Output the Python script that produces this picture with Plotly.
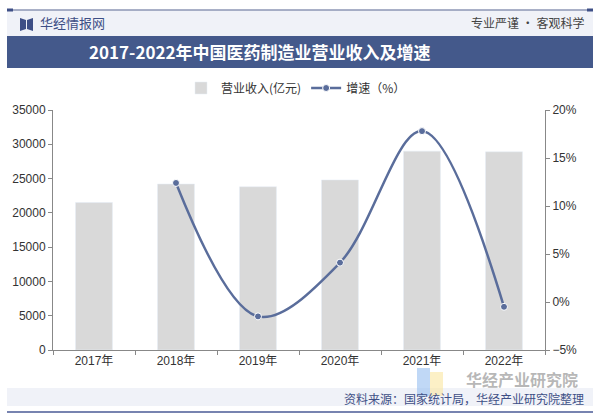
import plotly.graph_objects as go

years = ["2017年", "2018年", "2019年", "2020年", "2021年", "2022年"]
revenue = [21500, 24200, 23800, 24800, 29000, 28900]
growth_years = ["2018年", "2019年", "2020年", "2021年", "2022年"]
growth = [12.4, -1.5, 4.1, 17.8, -0.5]

W, H = 600, 420
PL, PR, PT, PB = 53, 545, 110, 350


def px(x):
    return (x - PL) / (PR - PL)


def py(y):
    return (PB - y) / (PB - PT)


fig = go.Figure()
fig.add_trace(go.Bar(x=years, y=revenue, name="营业收入(亿元)",
                     marker=dict(color="#d9d9d9"), yaxis="y"))
fig.add_trace(go.Scatter(x=growth_years, y=growth, name="增速（%）", yaxis="y2",
                         mode="lines+markers",
                         line=dict(color="#5a6d9b", width=2.5, shape="spline", smoothing=1.0),
                         marker=dict(size=7, color="#5a6d9b", line=dict(color="white", width=1))))

shapes = []
shapes.append(dict(type="rect", xref="paper", yref="paper", x0=px(7), x1=px(593), y0=py(10), y1=py(36),
                   fillcolor="#f0f2f8", line=dict(width=0), layer="below"))
shapes.append(dict(type="line", xref="paper", yref="paper", x0=px(7), x1=px(593), y0=py(10), y1=py(10),
                   line=dict(color="#8c96b4", width=1.5)))
shapes.append(dict(type="line", xref="paper", yref="paper", x0=px(7), x1=px(13), y0=py(10), y1=py(10),
                   line=dict(color="#3e4f86", width=3)))
shapes.append(dict(type="line", xref="paper", yref="paper", x0=px(587), x1=px(593), y0=py(10), y1=py(10),
                   line=dict(color="#3e4f86", width=3)))
shapes.append(dict(type="rect", xref="paper", yref="paper", x0=px(7), x1=px(593), y0=py(36), y1=py(68),
                   fillcolor="#44598b", line=dict(width=0)))
shapes.append(dict(type="path", xref="paper", yref="paper",
                   path="M {a},{b} L {c},{d} L {c},{e} L {a},{f} Z".format(
                       a=px(20), b=py(18), c=px(26), d=py(20), e=py(29), f=py(31)),
                   fillcolor="#3e4f86", line=dict(width=0)))
shapes.append(dict(type="path", xref="paper", yref="paper",
                   path="M {a},{b} L {c},{d} L {c},{e} L {a},{f} Z".format(
                       a=px(33), b=py(18), c=px(27), d=py(20), e=py(29), f=py(31)),
                   fillcolor="#3e4f86", line=dict(width=0)))
shapes.append(dict(type="rect", xref="paper", yref="paper", x0=px(7), x1=px(593), y0=py(388), y1=py(406),
                   fillcolor="#f0f2f8", line=dict(width=0), layer="below"))
shapes.append(dict(type="line", xref="paper", yref="paper", x0=px(7), x1=px(593), y0=py(412), y1=py(412),
                   line=dict(color="#4a5a96", width=1.5)))
shapes.append(dict(type="rect", xref="paper", yref="paper", x0=px(417), x1=px(430), y0=py(368), y1=py(396),
                   fillcolor="rgba(150,190,240,0.6)", line=dict(width=0)))
shapes.append(dict(type="rect", xref="paper", yref="paper", x0=px(430), x1=px(443), y0=py(372), y1=py(396),
                   fillcolor="rgba(250,230,160,0.6)", line=dict(width=0)))

annotations = [
    dict(text="华经情报网", x=px(38), y=py(23), xref="paper", yref="paper", xanchor="left", yanchor="middle",
         showarrow=False, font=dict(size=13, color="#3e4f86", family="Noto Sans CJK SC")),
    dict(text="专业严谨 • 客观科学", x=px(586), y=py(23), xref="paper", yref="paper", xanchor="right",
         yanchor="middle", showarrow=False, font=dict(size=12, color="#444", family="Noto Sans CJK SC")),
    dict(text="<b>2017-2022年中国医药制造业营业收入及增速</b>", x=px(260), y=py(52), xref="paper", yref="paper",
         xanchor="center", yanchor="middle", showarrow=False,
         font=dict(size=17, color="white", family="Noto Sans CJK SC")),
    dict(text="<b>华经产业研究院</b>", x=px(580), y=py(379), xref="paper", yref="paper", xanchor="right",
         yanchor="middle", showarrow=False, font=dict(size=16, color="rgba(160,160,160,0.75)",
                                                      family="Noto Sans CJK SC")),
    dict(text="资料来源：国家统计局，华经产业研究院整理", x=px(586), y=py(398), xref="paper", yref="paper",
         xanchor="right", yanchor="middle", showarrow=False,
         font=dict(size=12, color="#3e4f86", family="Noto Sans CJK SC")),
]

fig.update_layout(
    width=W, height=H,
    margin=dict(l=PL, r=W - PR, t=PT, b=H - PB, pad=0),
    paper_bgcolor="white", plot_bgcolor="white",
    font=dict(family="Liberation Sans, Noto Sans CJK SC", size=12, color="#333"),
    bargap=0.55,
    showlegend=True,
    legend=dict(orientation="h", x=px(296), xanchor="center", y=py(88), yanchor="middle",
                font=dict(size=12, color="#333", family="Noto Sans CJK SC"), bgcolor="rgba(0,0,0,0)",
                itemwidth=30),
    xaxis=dict(showline=True, linecolor="#888", ticks="outside", tickson="boundaries", ticklen=4,
               tickcolor="#888", showgrid=False, tickfont=dict(size=12, color="#333")),
    yaxis=dict(range=[0, 35000], dtick=5000, tickformat="d", showline=True, linecolor="#888",
               ticks="outside", ticklen=4, tickcolor="#888", showgrid=False, zeroline=False,
               tickfont=dict(size=12, color="#333")),
    yaxis2=dict(range=[-5, 20], dtick=5, overlaying="y", side="right", showline=True, linecolor="#888",
                ticks="outside", ticklen=4, tickcolor="#888", showgrid=False, zeroline=False,
                ticksuffix="%", tickfont=dict(size=12, color="#333")),
    shapes=shapes,
    annotations=annotations,
)

fig.write_html("out.html", config={"displayModeBar": False},
               post_script="document.body.style.margin='0';document.body.style.padding='0';")
